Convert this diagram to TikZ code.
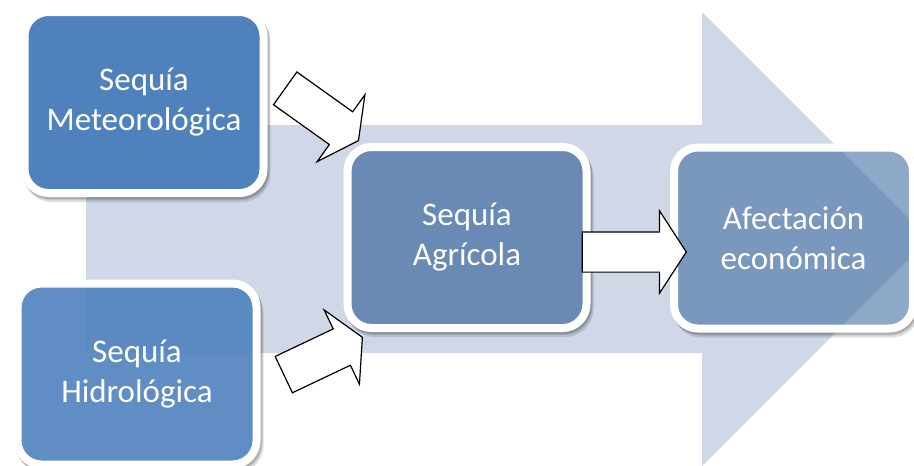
\documentclass[tikz,border=0pt]{standalone}
\usepackage{fontspec}
\setmainfont{Carlito}
\usetikzlibrary{shapes.arrows}
\definecolor{stageblue}{RGB}{79,129,189}
\definecolor{laterblue}{RGB}{60,105,160}
\definecolor{flowgray}{RGB}{208,216,232}
\pgfdeclarelayer{back}
\pgfdeclarelayer{shade}
\pgfsetlayers{back,shade,main}
\newcommand\boxshade[1]{%
  \foreach \dx/\dy in {1/2,2/3,3/5}
    \fill [black,opacity=.12,even odd rule,rounded corners=28pt]
      ([shift={(-4+\dx,-4+\dy)}]#1.north west) rectangle ([shift={(4+\dx,4+\dy)}]#1.south east)
      [rounded corners=26pt]
      ([shift={(-2,-2)}]#1.north west) rectangle ([shift={(2,2)}]#1.south east);}

\begin{document}
\begin{tikzpicture}
    [x=1pt,y=-1pt,
     stage/.style={draw=white,line width=8pt,rounded corners=24pt,fill=stageblue,
       text=white,text opacity=1,minimum width=239pt,minimum height=181pt,
       inner sep=0pt,outer sep=0pt,align=center,font=\fontsize{33}{40}\selectfont},
     push/.style={single arrow,draw=black,fill=white,line width=1.2pt,
       inner xsep=0pt,inner ysep=19.5pt,single arrow head extend=21pt,anchor=tip}]
\useasboundingbox (0,0) rectangle (914,466);
\path
    (144,102.5) node [stage,fill opacity=1] (meteo) {Sequía\\Meteorológica}
    (137,374) node [stage,fill opacity=.9] (hidro) {Sequía\\Hidrológica}
    (467,237.5) node [stage,fill=laterblue,fill opacity=.7] (agri) {Sequía\\Agrícola}
    (793.5,238) node [stage,fill=laterblue,fill opacity=.58] (econ) {Afectación\\económica};
\path
    (359,141) node [push,rotate=-35.5,minimum height=90pt,single arrow tip angle=125] (meteo2agri) {}
    (363,337) node [push,rotate=25.4,minimum height=87pt,single arrow tip angle=122] (hidro2agri) {}
    (687,252) node [push,minimum height=104pt,single arrow tip angle=114] (agri2econ) {};
\begin{pgfonlayer}{back}
\fill [flowgray] (86,125) -- (702,125) -- (702,12) -- (929,239)
    -- (702,466) -- (702,353) -- (86,353) -- cycle;
\end{pgfonlayer}
\begin{pgfonlayer}{shade}
\boxshade{meteo}
\boxshade{hidro}
\boxshade{agri}
\boxshade{econ}
\end{pgfonlayer}
\end{tikzpicture}
\end{document}
